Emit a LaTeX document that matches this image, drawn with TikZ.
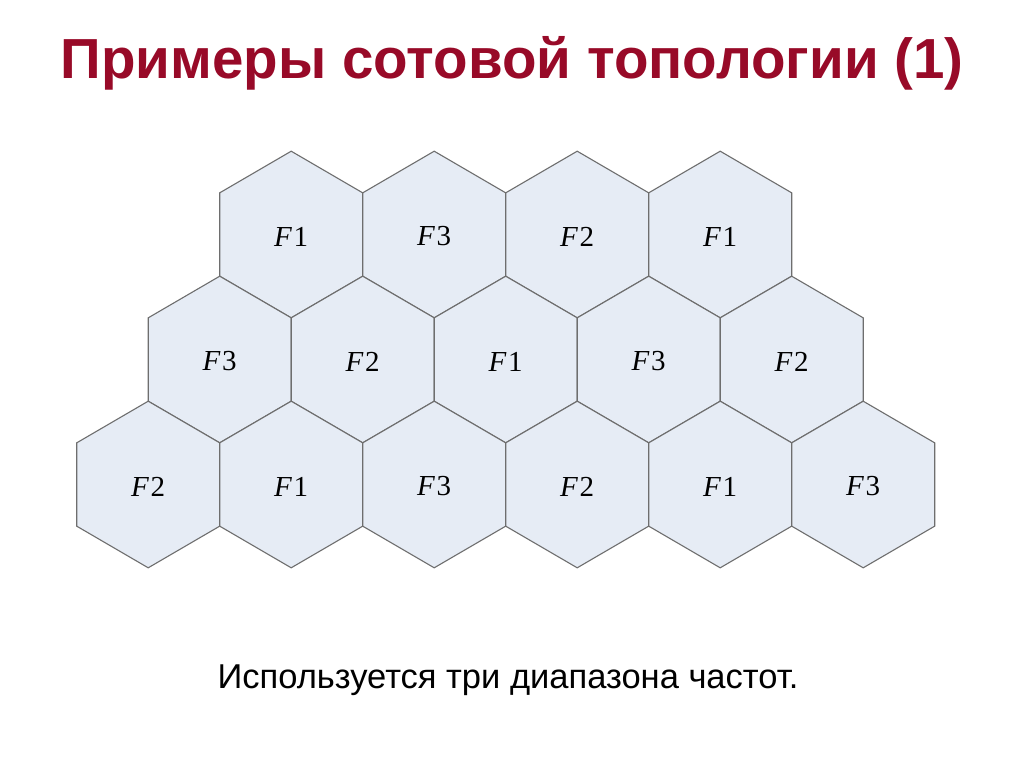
\documentclass[tikz,border=0pt]{standalone}
\usepackage{fontspec}
\setmainfont{Liberation Serif}
\newfontfamily\arialfont{Liberation Sans}
\definecolor{hexfill}{RGB}{230,236,245}
\definecolor{hexline}{RGB}{110,110,110}
\definecolor{titlered}{RGB}{152,10,40}
\newcommand\drawhex[4]{%
  \draw[hexcell] (#1,#2-83.3) -- (#1+71.5,#2-41.65) -- (#1+71.5,#2+41.65) -- (#1,#2+83.3) -- (#1-71.5,#2+41.65) -- (#1-71.5,#2-41.65) -- cycle;
  \node[lab] (#4) at (#1,#2+2) {\textit{F}\kern1.5pt#3};
}
\begin{document}
\begin{tikzpicture}[x=1pt,y=-1pt,
  hexcell/.style={fill=hexfill, draw=hexline, line width=1.1pt, line join=miter},
  lab/.style={font=\fontsize{29}{30}\selectfont, inner sep=0pt}]
\useasboundingbox (0,0) rectangle (1024,767);
\fill[white] (0,0) rectangle (1024,767);
\node[font=\arialfont\bfseries\fontsize{56.5}{60}\selectfont, text=titlered, anchor=base, inner sep=0pt] (title) at (512,79) {Примеры сотовой топологии (1)};
% row 1
\drawhex{291.2}{234.5}{1}{a1}
\drawhex{434.2}{234.5}{3}{a2}
\drawhex{577.2}{234.5}{2}{a3}
\drawhex{720.2}{234.5}{1}{a4}
% row 2
\drawhex{219.7}{359.5}{3}{b1}
\drawhex{362.7}{359.5}{2}{b2}
\drawhex{505.7}{359.5}{1}{b3}
\drawhex{648.7}{359.5}{3}{b4}
\drawhex{791.7}{359.5}{2}{b5}
% row 3
\drawhex{148.2}{484.5}{2}{c1}
\drawhex{291.2}{484.5}{1}{c2}
\drawhex{434.2}{484.5}{3}{c3}
\drawhex{577.2}{484.5}{2}{c4}
\drawhex{720.2}{484.5}{1}{c5}
\drawhex{863.2}{484.5}{3}{c6}
\node[font=\arialfont\fontsize{34.5}{40}\selectfont] (note) at (508,680) {Используется три диапазона частот.};
\end{tikzpicture}
\end{document}
